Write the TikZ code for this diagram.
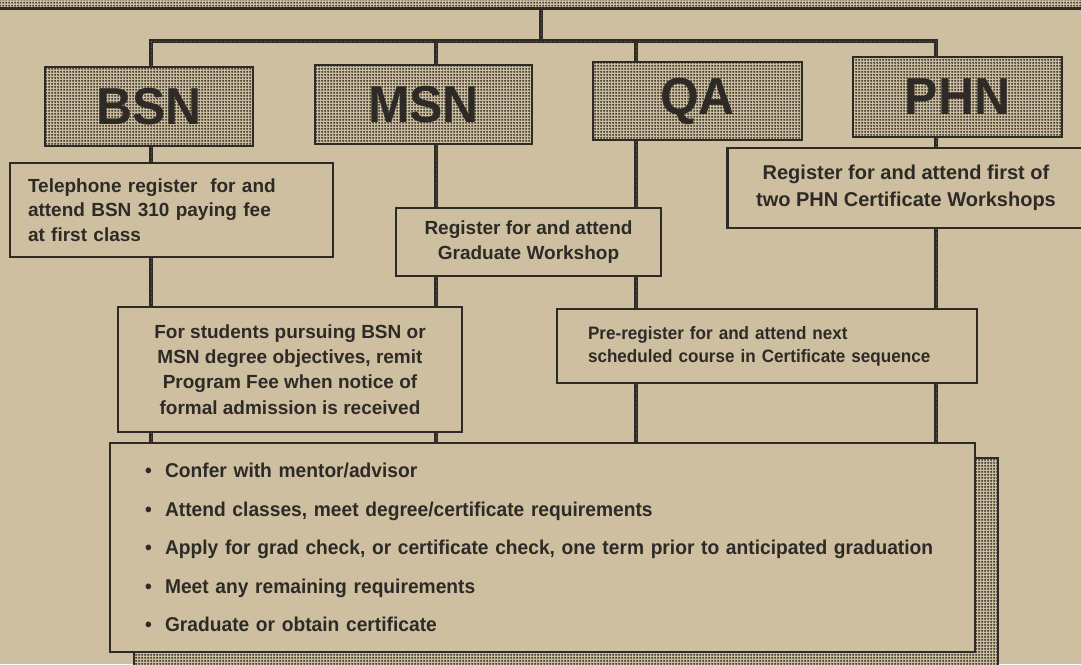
\documentclass[tikz,border=0pt]{standalone}
\usepackage{fontspec}
\setmainfont{Liberation Sans}
\newfontfamily\condfont{Liberation Sans}[FakeStretch=0.96]
\newfontfamily\prefont{Liberation Sans}[FakeStretch=0.95]
\newfontfamily\bigfont{Liberation Sans}[FakeStretch=0.96]
\usetikzlibrary{patterns.meta}
\definecolor{paper}{HTML}{CDBF9F}
\definecolor{ink}{HTML}{2E2A26}
\tikzdeclarepattern{
  name=stip,
  type=uncolored,
  bottom left={(0pt,0pt)},
  top right={(3pt,3pt)},
  tile size={(3pt,3pt)},
  code={\fill (1.5pt,1.5pt) circle (1.35pt);}
}
\begin{document}
\begin{tikzpicture}[x=1pt,y=-1pt,
  txtbox/.style={draw=ink, line width=2.6pt, fill=paper, inner sep=0pt, text=ink,
    font=\fontsize{19}{24.5}\selectfont\bfseries},
  progbox/.style={draw=ink, line width=2.6pt, inner sep=0pt, text=ink,
    preaction={fill=paper}, pattern=stip, pattern color=ink!90!paper,
    font=\fontsize{52}{52}\selectfont\bigfont\bfseries},
  conn/.style={draw=ink, line width=3.6pt,
    postaction={draw=ink!70!paper, line width=0.9pt, dash pattern=on 0.9pt off 1.6pt}}
]
\useasboundingbox (0,0) rectangle (1081,664);
\fill[paper] (0,0) rectangle (1081,664);

% top band (bottom of the box above)
\node[progbox, minimum width=1110, minimum height=22, anchor=south] (bar) at (540.5,10) {};

% programme boxes
\node[progbox, minimum width=208, minimum height=79] (bsn) at (149,106.5) {BSN};
\node[progbox, minimum width=217, minimum height=79] (msn) at (423.5,104.5) {MSN};
\node[progbox, minimum width=209, minimum height=78] (qa)  at (697.5,101) {QA};
\node[progbox, minimum width=209, minimum height=80] (phn) at (957.5,97) {PHN};

% step boxes
\node[txtbox, minimum width=323, minimum height=94, text width=287, align=left] (tel) at (171.5,210)
  {Telephone register\ \ for and\\attend BSN 310 paying fee\\at first class};
\node[txtbox, minimum width=265, minimum height=68, align=center] (grad) at (528.5,242)
  {Register for and attend\\Graduate Workshop};
\node[txtbox, minimum width=357, minimum height=80, align=center,
  font=\fontsize{20}{27}\selectfont\bfseries] (phnw) at (906,188)
  {Register for and attend first of\\two PHN Certificate Workshops};
\node[txtbox, minimum width=344, minimum height=125, align=center,
  font=\fontsize{19}{25.3}\selectfont\bfseries] (fee) at (290,369.5)
  {For students pursuing BSN or\\MSN degree objectives, remit\\Program Fee when notice of\\formal admission is received};
\node[txtbox, minimum width=420, minimum height=74, text width=358, align=left,
  font=\fontsize{18}{23}\selectfont\prefont\bfseries] (pre) at (767,346)
  {Pre-register for and attend next\\scheduled course in Certificate sequence};

% final box with its shadow
\fill[pattern=stip, pattern color=ink!90!paper, preaction={fill=paper}] (134,458) rectangle (998,680);
\draw[ink, line width=2.6pt] (134,680) -- (134,458) -- (998,458) -- (998,680);
\node[txtbox, minimum width=865, minimum height=209, text width=795, align=left,
  font=\fontsize{20}{38.4}\selectfont\condfont\bfseries] (steps) at (542.5,547.5)
  {\mbox{\textbullet\ \ Confer with mentor/advisor}\\
   \mbox{\textbullet\ \ Attend classes, meet degree/certificate requirements}\\
   \mbox{\textbullet\ \ Apply for grad check, or certificate check, one term prior to anticipated graduation}\\
   \mbox{\textbullet\ \ Meet any remaining requirements}\\
   \mbox{\textbullet\ \ Graduate or obtain certificate}};

% connector x positions
\coordinate (hub) at (541,41);
\coordinate (xb) at (151,0);
\coordinate (xm) at (436,0);
\coordinate (xq) at (636,0);
\coordinate (xp) at (936,0);

% connectors
\draw[conn] (bar.south -| hub) -- (hub);
\draw[conn] (bsn.north -| xb) |- (hub) -| (phn.north -| xp);
\draw[conn] (msn.north -| xm) -- (hub -| xm);
\draw[conn] (qa.north -| xq) -- (hub -| xq);

\draw[conn] (bsn.south -| xb) -- (tel.north -| xb);
\draw[conn] (tel.south -| xb) -- (fee.north -| xb);
\draw[conn] (fee.south -| xb) -- (steps.north -| xb);

\draw[conn] (msn.south -| xm) -- (grad.north -| xm);
\draw[conn] (grad.south -| xm) -- (fee.north -| xm);
\draw[conn] (fee.south -| xm) -- (steps.north -| xm);

\draw[conn] (qa.south -| xq) -- (grad.north -| xq);
\draw[conn] (grad.south -| xq) -- (pre.north -| xq);
\draw[conn] (pre.south -| xq) -- (steps.north -| xq);

\draw[conn] (phn.south -| xp) -- (phnw.north -| xp);
\draw[conn] (phnw.south -| xp) -- (pre.north -| xp);
\draw[conn] (pre.south -| xp) -- (steps.north -| xp);
\end{tikzpicture}
\end{document}
